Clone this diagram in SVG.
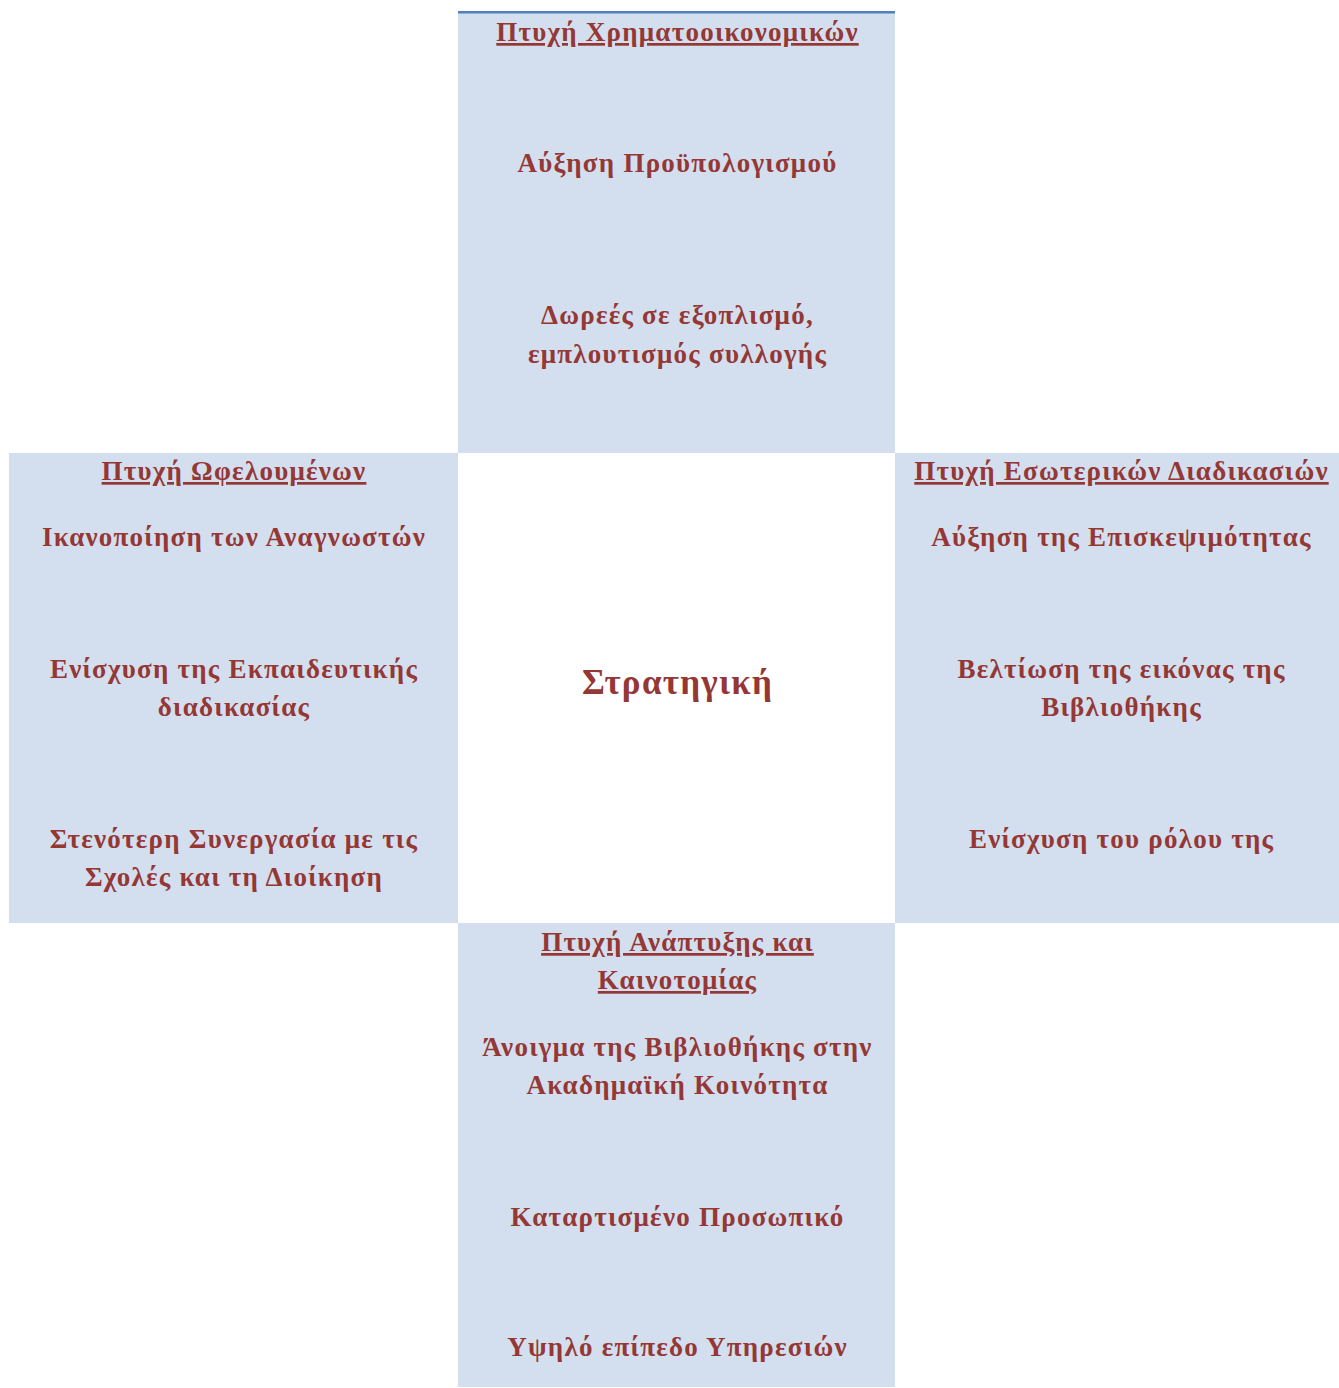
<svg xmlns="http://www.w3.org/2000/svg" width="1339" height="1388" viewBox="0 0 1339 1388">
  <style>
    .panel { fill: #d3dfee; }
    .t { font-family: "Liberation Serif", "Times New Roman", serif; font-weight: bold; font-size: 27px; letter-spacing: 1.25px; fill: #953735; text-anchor: middle; }
    .h { text-decoration: underline; text-decoration-thickness: 2.5px; text-underline-offset: 3px; }
    .c { font-size: 35px; letter-spacing: 1.3px; }
  </style>
  <rect width="1339" height="1388" fill="#ffffff"/>

  <!-- Financial perspective (top) -->
  <g id="financial">
    <rect class="panel" x="458" y="11" width="437" height="442"/>
    <rect x="458" y="11" width="437" height="2.5" fill="#4f81bd"/>
    <text class="t h" x="677.5" y="41">Πτυχή Χρηματοοικονομικών</text>
    <text class="t" x="677.5" y="172">Αύξηση Προϋπολογισμού</text>
    <text class="t" x="677.5" y="324">Δωρεές σε εξοπλισμό,</text>
    <text class="t" x="677.5" y="363">εμπλουτισμός συλλογής</text>
  </g>

  <!-- Beneficiaries perspective (left) -->
  <g id="beneficiaries">
    <rect class="panel" x="9" y="453" width="449" height="470"/>
    <text class="t h" x="234" y="480">Πτυχή Ωφελουμένων</text>
    <text class="t" x="234" y="546">Ικανοποίηση των Αναγνωστών</text>
    <text class="t" x="234" y="678">Ενίσχυση της Εκπαιδευτικής</text>
    <text class="t" x="234" y="716">διαδικασίας</text>
    <text class="t" x="234" y="848">Στενότερη Συνεργασία με τις</text>
    <text class="t" x="234" y="886">Σχολές και τη Διοίκηση</text>
  </g>

  <!-- Strategy (centre) -->
  <g id="strategy">
    <text class="t c" x="677.5" y="694">Στρατηγική</text>
  </g>

  <!-- Internal processes perspective (right) -->
  <g id="internal">
    <rect class="panel" x="895" y="453" width="444" height="470"/>
    <text class="t h" x="1121.5" y="480">Πτυχή Εσωτερικών Διαδικασιών</text>
    <text class="t" x="1121.5" y="546">Αύξηση της Επισκεψιμότητας</text>
    <text class="t" x="1121.5" y="678">Βελτίωση της εικόνας της</text>
    <text class="t" x="1121.5" y="716">Βιβλιοθήκης</text>
    <text class="t" x="1121.5" y="848">Ενίσχυση του ρόλου της</text>
  </g>

  <!-- Development and innovation perspective (bottom) -->
  <g id="development">
    <rect class="panel" x="458" y="923" width="437" height="464"/>
    <text class="t h" x="677.5" y="951">Πτυχή Ανάπτυξης και</text>
    <text class="t h" x="677.5" y="989">Καινοτομίας</text>
    <text class="t" x="677.5" y="1056">Άνοιγμα της Βιβλιοθήκης στην</text>
    <text class="t" x="677.5" y="1094">Ακαδημαϊκή Κοινότητα</text>
    <text class="t" x="677.5" y="1226">Καταρτισμένο Προσωπικό</text>
    <text class="t" x="677.5" y="1356">Υψηλό επίπεδο Υπηρεσιών</text>
  </g>

  <g id="connectors"/>
</svg>
